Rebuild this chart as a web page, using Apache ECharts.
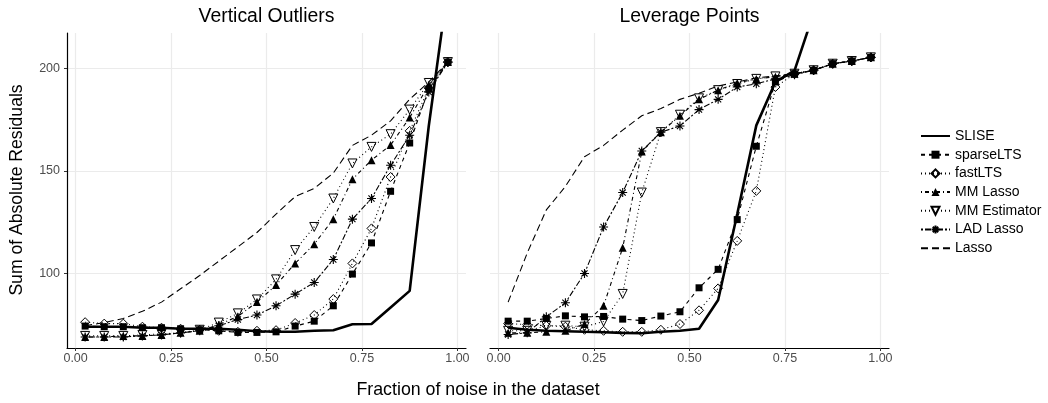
<!DOCTYPE html>
<html><head><meta charset="utf-8">
<script src="https://cdn.jsdelivr.net/npm/echarts@6/dist/echarts.min.js"></script>
<style>html,body{margin:0;padding:0;background:#fff}#c{width:1048px;height:403px}</style>
</head><body><div id="c"></div><script>
// ---- data ----
const noiseFraction = [0.025,0.075,0.125,0.175,0.225,0.275,0.325,0.375,0.425,0.475,0.525,0.575,0.625,0.675,0.725,0.775,0.825,0.875,0.925,0.975];
const panelTitles = ['Vertical Outliers', 'Leverage Points'];
const methodNames = ['SLISE','sparseLTS','fastLTS','MM Lasso','MM Estimator','LAD Lasso','Lasso'];
const xTickValues = [0, 0.25, 0.5, 0.75, 1];
const yTickValues = [100, 150, 200];

// Vertical Outliers panel
const sliseVO    = [74,74,74,73.5,73.5,73,73,73,72.5,71.8,71.5,71.5,72,72.3,75.2,75.3,83.4,91.5,172,240];
const sparseVO   = [74.3,74,74,73.5,73.5,73,72.5,72,71.2,71.2,71.5,74.3,76.7,84.2,99.7,114.9,140.1,163.7,190,203.2];
const fastVO     = [76.2,75.5,75.5,74,73.5,73,72.5,72,71.5,72,72.3,75.8,79.7,87.5,104.9,122,147.1,169.6,190.5,203.2];
const mmLassoVO  = [69,69,69.5,69.5,70,71,72,75,79,86,94.3,104.9,114.3,126.5,146,155.3,162.7,176.1,192,203.2];
const mmEstVO    = [69.5,69.5,69.5,70,70.5,71,72.5,76,80.5,87.3,97.1,111.4,122.7,136.6,153.7,161.8,168,180,193,203.2];
const ladVO      = [69,69,69,69.5,70,71,72,74.5,77.5,79.7,84.2,89.9,95.6,106.8,126.5,136.6,152.8,167.5,188.6,203.2];
const lassoVO    = [74.5,76,78,81.5,86,92.5,99,106,113,120,129,137.5,141.5,149,162.5,167.5,174.5,185,193.5,203.2];

// Leverage Points panel
const sliseLP    = [73.5,72.5,72,71.8,71.5,71.3,71,70.8,71.5,72,73,87,129,172.3,193.5,199,227,260,290,320];
const sparseLP   = [76.7,76.7,78,79.3,78.8,79,77.7,77,79.2,81.3,93,102,126.3,162.1,193.5,197.5,199.2,202.4,203.7,205.5];
const fastLP     = [75.5,75,74.5,74,72.5,72,71.5,71.5,72.5,75.3,82,92.7,115.9,140.3,191,197.5,199.2,202.4,203.7,205.5];
const mmLassoLP  = [71,71,71.5,72,75.3,84.2,112.5,159.5,169,177,185,189.5,193,195,196,197.5,199.2,202.4,203.7,205.5];
const mmEstLP    = [72,72,74.5,74.5,74,76.5,90,139.5,169,177.5,185.5,189.5,192.5,195,196.2,197.5,199.2,202.4,203.7,205.5];
const ladLP      = [70.2,71,78.8,85.7,100,122.7,139.5,159.8,169,172,180,185,191,192.6,195,197,199.2,202.4,203.7,205.5];
const lassoLP    = [86,110,131,142.5,157,162.5,170,177,180.5,185,188,191.5,193.5,195.5,196.5,197.5,199.2,202.4,203.7,205.5];

const panelData = [
  [sliseVO, sparseVO, fastVO, mmLassoVO, mmEstVO, ladVO, lassoVO],
  [sliseLP, sparseLP, fastLP, mmLassoLP, mmEstLP, ladLP, lassoLP]
];

// ---- styles ----
const FONT = 'Liberation Sans, Arial, Helvetica, sans-serif';
const ASTERISK = 'path://M5,0L5,10M0,5L10,5M1.6,1.6L8.4,8.4M1.6,8.4L8.4,1.6';
const NOSYM = 'path://M0,0L1,0L1,1Z';
const styles = {
  'SLISE':        {symbol:NOSYM, size:1, fill:'rgba(0,0,0,0)', lw:2.6, dash:'solid', hide:true},
  'sparseLTS':    {symbol:'rect', size:7, fill:'#000', lw:1.1, dash:[4,4]},
  'fastLTS':      {symbol:'diamond', size:9, fill:'rgba(0,0,0,0)', border:1, lw:1.1, dash:[1,3]},
  'MM Lasso':     {symbol:'triangle', size:8, fill:'#000', lw:1.1, dash:[1,3,4,3]},
  'MM Estimator': {symbol:'triangle', rotate:180, size:9, fill:'rgba(0,0,0,0)', border:1, lw:1.1, dash:[1,3]},
  'LAD Lasso':    {symbol:ASTERISK, size:9, fill:'#000', border:1.1, lw:1.1, dash:[2,2,6,2]},
  'Lasso':        {symbol:NOSYM, size:1, fill:'rgba(0,0,0,0)', lw:1.1, dash:[7,4], hide:true}
};

const grids = [
  {left:67, top:33, width:399, height:315},
  {left:490, top:33, width:399, height:315}
];

const xAxes = grids.map((g,i)=>({
  type:'value', gridIndex:i, min:-0.0225, max:1.0225,
  axisLine:{show:true, onZero:false, lineStyle:{color:'#000', width:1.2}},
  axisTick:{show:true, length:3, customValues:xTickValues, lineStyle:{color:'#333'}},
  axisLabel:{customValues:xTickValues, margin:4, color:'#4d4d4d', fontSize:12.5, fontFamily:FONT,
    formatter:v=>v.toFixed(2)},
  splitLine:{show:true, lineStyle:{color:'#ebebeb', width:1.2}}
}));
const yAxes = grids.map((g,i)=>({
  type:'value', gridIndex:i, min:63.6, max:217.4,
  axisLine:{show:i===0, onZero:false, lineStyle:{color:'#000', width:1.2}},
  axisTick:{show:i===0, length:3, customValues:yTickValues, lineStyle:{color:'#333'}},
  axisLabel:{show:i===0, customValues:yTickValues, margin:7, color:'#4d4d4d', fontSize:12.5, fontFamily:FONT},
  splitLine:{show:true, lineStyle:{color:'#ebebeb', width:1.2}}
}));

const series = [];
panelData.forEach((arrs, p)=>{
  arrs.forEach((vals, k)=>{
    const name = methodNames[k];
    const s = styles[name];
    series.push({
      type:'line', name, xAxisIndex:p, yAxisIndex:p,
      data: noiseFraction.map((x,i)=>[x, vals[i]]),
      symbol: s.symbol, symbolSize: s.size, symbolRotate: s.rotate || 0,
      showSymbol: !s.hide,
      lineStyle:{color:'#000', width:s.lw, type:s.dash},
      itemStyle:{color: s.fill, borderColor:'#000', borderWidth: s.border || 0},
      z: name==='SLISE' ? 3 : 2,
      clip:true, silent:true
    });
  });
});

const chart = echarts.init(document.getElementById('c'), null, {renderer:'canvas'});
chart.setOption({
  animation:false,
  backgroundColor:'#fff',
  grid: grids,
  xAxis: xAxes,
  yAxis: yAxes,
  legend:{
    data: methodNames, orient:'vertical', left:920, top:129, padding:0,
    itemWidth:29, itemHeight:10, itemGap:4.7,
    textStyle:{fontSize:14, color:'#000', fontFamily:FONT}
  },
  graphic:[
    {type:'text', x:266.5, y:17, style:{text:panelTitles[0], textAlign:'center', textVerticalAlign:'middle', font:'19.4px '+FONT, fill:'#000'}},
    {type:'text', x:689.5, y:17, style:{text:panelTitles[1], textAlign:'center', textVerticalAlign:'middle', font:'19.4px '+FONT, fill:'#000'}},
    {type:'text', x:478, y:390, style:{text:'Fraction of noise in the dataset', textAlign:'center', textVerticalAlign:'middle', font:'17.8px '+FONT, fill:'#000'}},
    {type:'text', x:17, y:190, rotation:Math.PI/2, style:{text:'Sum of Absolute Residuals', textAlign:'center', textVerticalAlign:'middle', font:'17.6px '+FONT, fill:'#000'}}
  ],
  series
});
</script></body></html>
